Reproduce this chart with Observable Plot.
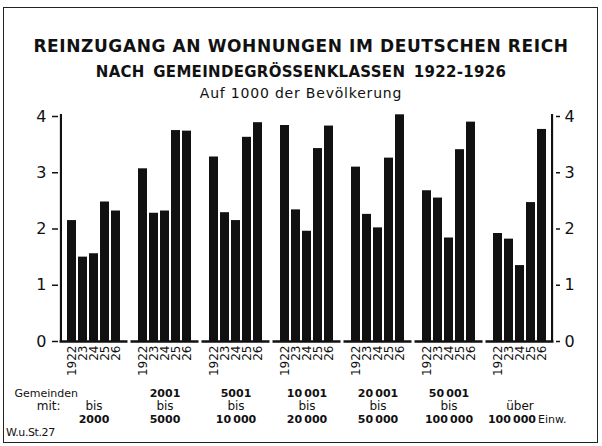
<!DOCTYPE html>
<html>
<head>
<meta charset="utf-8">
<script src="https://cdn.jsdelivr.net/npm/d3@7"></script>
<script src="https://cdn.jsdelivr.net/npm/@observablehq/plot@0.6"></script>
<style>
  html, body { margin: 0; padding: 0; background: #fff; }
  #wrap { position: relative; width: 602px; height: 446px; background: #fff; overflow: hidden; font-family: "DejaVu Sans", sans-serif; color: #111; }
  #border { position: absolute; left: 3px; top: 7px; width: 595px; height: 436px; box-sizing: border-box; border: 1.5px solid #222; }
  .t { position: absolute; left: 0; width: 602px; text-align: center; white-space: nowrap; }
  #t1 { top: 36px; font-size: 17px; line-height: 20px; font-weight: bold; letter-spacing: 0.6px; }
  #t2 { top: 62px; font-size: 15px; line-height: 20px; font-weight: bold; letter-spacing: 0.3px; word-spacing: 3px; }
  #t3 { top: 85px; font-size: 14px; line-height: 16px; letter-spacing: 0.8px; }
  #src { position: absolute; left: 6px; top: 426px; font-size: 11px; line-height: 14px; letter-spacing: -0.4px; }
  .layer { position: absolute; left: 0; top: 0; width: 602px; height: 446px; }
  .layer svg { display: block; }
</style>
</head>
<body>
<div id="wrap">
  <div id="border"></div>
  <div class="t" id="t1">REINZUGANG AN WOHNUNGEN IM DEUTSCHEN REICH</div>
  <div class="t" id="t2">NACH GEMEINDEGRÖSSENKLASSEN 1922-1926</div>
  <div class="t" id="t3">Auf 1000 der Bevölkerung</div>
  <div id="src">W.u.St.27</div>
  <div id="plot" class="layer"></div>
</div>
<script>
// Gemeindegrößenklassen (groups)
const groups = ["bis 2000", "2001-5000", "5001-10000", "10001-20000", "20001-50000", "50001-100000", "über 100000"];
// Year tick labels
const years = ["1922", "23", "24", "25", "26"];
// Values per year, one entry per group (Reinzugang auf 1000 der Bevölkerung)
const v1922 = [2.15, 3.07, 3.28, 3.84, 3.10, 2.68, 1.92];
const v1923 = [1.50, 2.28, 2.29, 2.34, 2.26, 2.55, 1.82];
const v1924 = [1.56, 2.32, 2.15, 1.96, 2.02, 1.84, 1.35];
const v1925 = [2.48, 3.75, 3.63, 3.43, 3.26, 3.41, 2.47];
const v1926 = [2.32, 3.74, 3.89, 3.83, 4.03, 3.90, 3.77];
// Group label lines
const labelTop = ["", "2001", "5001", "10\u2009001", "20\u2009001", "50\u2009001", ""];
const labelMid = ["bis", "bis", "bis", "bis", "bis", "bis", "über"];
const labelBottom = ["2000", "5000", "10\u2009000", "20\u2009000", "50\u2009000", "100\u2009000", "100\u2009000"];
const yTicks = [0, 1, 2, 3, 4];
const yDomain = [0, 4];

const series = [v1922, v1923, v1924, v1925, v1926];
const data = [];
groups.forEach((g, gi) => {
  years.forEach((y, yi) => {
    data.push({group: g, year: y, value: series[yi][gi]});
  });
});

const ink = "#111";
const lastGroup = groups[groups.length - 1];
const centered = groups.slice(0, groups.length - 1);

// layout (styles only)
const W = 602, mL = 56, mR = 45;
const padIn = 0.2, padOut = 0.65, axisW = 2.5;
const facetW = (W - mL - mR) / groups.length;
const step = facetW / (years.length - padIn + 2 * padOut);
const bandStart = padOut * step;
const bw = (1 - padIn) * step;
const lastBandEnd = bandStart + (years.length - 1) * step + bw;

const chart = Plot.plot({
  width: W,
  height: 446,
  marginTop: 116,
  marginBottom: 105,
  marginLeft: mL,
  marginRight: mR,
  style: {background: "transparent", color: ink, fontFamily: "DejaVu Sans, sans-serif", overflow: "visible"},
  fx: {domain: groups, padding: 0, axis: null, label: null},
  x: {domain: years, paddingInner: padIn, paddingOuter: padOut, axis: null, label: null},
  y: {domain: yDomain, axis: null, label: null},
  marks: [
    Plot.barY(data, {fx: "group", x: "year", y: "value", fill: ink}),
    Plot.ruleY([0], {stroke: ink, strokeWidth: 2.5, insetLeft: 1.5, insetRight: 1.5}),
    // value-axis lines along the frame edges
    Plot.barY([years[0]], {x: d => d, y1: () => yDomain[0], y2: () => yDomain[1], insetRight: bw - axisW, dx: -bandStart + 0.5, insetTop: -2, fill: ink, facetAnchor: "left"}),
    Plot.barY([years[years.length - 1]], {x: d => d, y1: () => yDomain[0], y2: () => yDomain[1], insetLeft: bw - axisW, dx: facetW - lastBandEnd - 0.5, insetTop: -2, fill: ink, facetAnchor: "right"}),
    Plot.axisY({anchor: "left", ticks: yTicks, tickFormat: d => String(d), tickSize: 6, tickPadding: 6, fontSize: 16, label: null, strokeWidth: 1.5}),
    Plot.axisY({anchor: "right", ticks: yTicks, tickFormat: d => String(d), tickSize: 4, tickPadding: 5, fontSize: 16, label: null, strokeWidth: 1.5}),
    Plot.axisX({tickRotate: -90, tickSize: 0, tickPadding: 4, fontSize: 12, label: null}),
    Plot.text(groups, {fx: d => d, text: (d, i) => labelTop[i], frameAnchor: "bottom", dy: 55, fontSize: 11, fontWeight: "bold", fill: ink}),
    Plot.text(groups, {fx: d => d, text: (d, i) => labelMid[i], frameAnchor: "bottom", dy: 68, fontSize: 12, fill: ink}),
    Plot.text(centered, {fx: d => d, text: (d, i) => labelBottom[i], frameAnchor: "bottom", dy: 81, fontSize: 11, fontWeight: "bold", fill: ink}),
    Plot.text([lastGroup], {fx: d => d, text: [labelBottom[groups.length - 1]], frameAnchor: "bottom", dy: 81, dx: 16, textAnchor: "end", fontSize: 11, fontWeight: "bold", fill: ink}),
    Plot.text([lastGroup], {fx: d => d, text: ["Einw."], frameAnchor: "bottom", dy: 81, dx: 18, textAnchor: "start", fontSize: 11, fill: ink}),
    Plot.text([groups[0]], {fx: d => d, text: ["Gemeinden"], frameAnchor: "bottom-left", dy: 55, dx: -44, textAnchor: "start", fontSize: 11, fill: ink}),
    Plot.text([groups[0]], {fx: d => d, text: ["mit:"], frameAnchor: "bottom-left", dy: 68, dx: 2, textAnchor: "end", fontSize: 12, fill: ink})
  ]
});
document.getElementById("plot").appendChild(chart);
</script>
</body>
</html>
